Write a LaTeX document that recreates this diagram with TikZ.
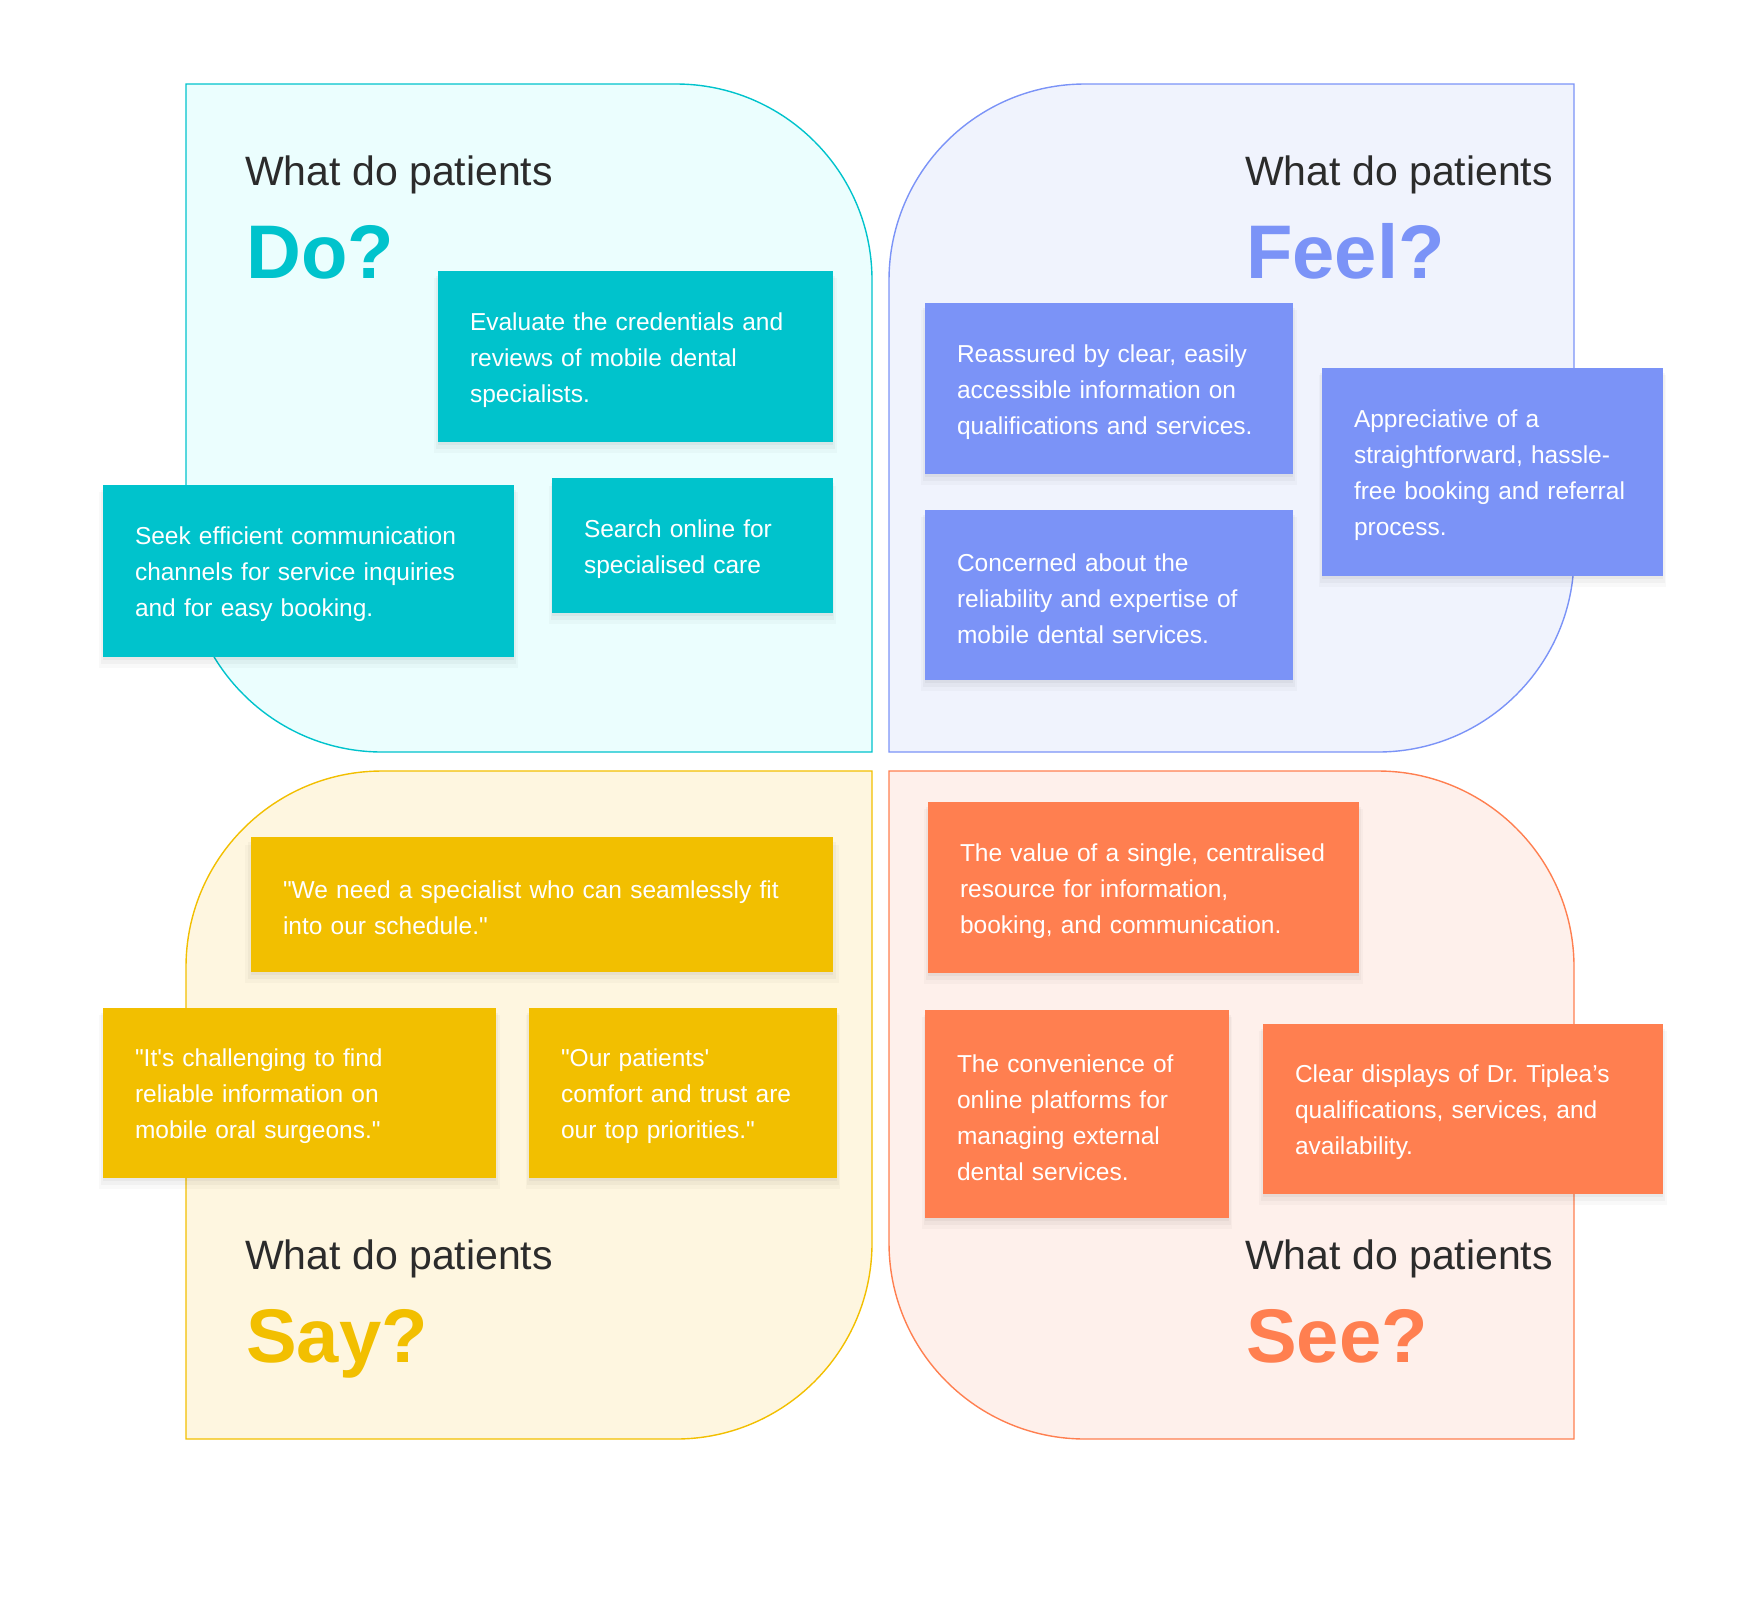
\documentclass[tikz,border=0pt]{standalone}
\usepackage{fontspec}
\setmainfont{Liberation Sans}[Ligatures=TeXOff]
\usetikzlibrary{shadows}
\definecolor{Teal}{HTML}{00C3CC}
\definecolor{TealLight}{HTML}{EBFEFE}
\definecolor{Periwinkle}{HTML}{7B93F7}
\definecolor{PeriwinkleLight}{HTML}{F0F3FD}
\definecolor{Amber}{HTML}{F2BF00}
\definecolor{AmberLight}{HTML}{FEF6E0}
\definecolor{Coral}{HTML}{FF7F50}
\definecolor{CoralLight}{HTML}{FEF0EB}
\definecolor{Ink}{HTML}{2B2B2B}
\frenchspacing

\begin{document}
\begin{tikzpicture}[x=1pt,y=-1pt,
    quad/.style={line width=1.4pt},
    soft/.style={general shadow={fill=black,opacity=.035,shadow xshift=0pt,shadow yshift=-3pt},
      general shadow={fill=black,opacity=.03,shadow xshift=0pt,shadow yshift=-6pt,shadow scale=1.01},
      general shadow={fill=black,opacity=.025,shadow xshift=0pt,shadow yshift=-9pt,shadow scale=1.02}},
    note/.style={rectangle,soft,inner xsep=32pt,inner ysep=0pt,align=left,text=white,
      font=\fontsize{24.5}{36}\selectfont,execute at begin node=\rule{0pt}{25pt}},
    ask/.style={anchor=base west,inner sep=0pt,text=Ink,font=\fontsize{41}{48}\selectfont},
    verb/.style={anchor=base west,inner sep=0pt,font=\fontsize{76}{90}\selectfont\bfseries}]
  \useasboundingbox (0,0) rectangle (1760,1598);

  % quadrants
  \filldraw[quad,draw=Teal,fill=TealLight] (186,84) -- (676,84)
    .. controls (784,84) and (872,172) .. (872,280) -- (872,752) -- (382,752)
    .. controls (274,752) and (186,664) .. (186,556) -- cycle;
  \filldraw[quad,draw=Periwinkle,fill=PeriwinkleLight] (1574,84) -- (1574,556)
    .. controls (1574,664) and (1486,752) .. (1378,752) -- (889,752) -- (889,280)
    .. controls (889,172) and (977,84) .. (1085,84) -- cycle;
  \filldraw[quad,draw=Amber,fill=AmberLight] (872,771) -- (872,1243)
    .. controls (872,1351) and (784,1439) .. (676,1439) -- (186,1439) -- (186,967)
    .. controls (186,859) and (274,771) .. (382,771) -- cycle;
  \filldraw[quad,draw=Coral,fill=CoralLight] (889,771) -- (1378,771)
    .. controls (1486,771) and (1574,859) .. (1574,967) -- (1574,1439) -- (1085,1439)
    .. controls (977,1439) and (889,1351) .. (889,1243) -- cycle;

  % headings
  \node[ask] (doask) at (245,185) {What do patients};
  \node[verb,text=Teal] (doverb) at (246,278) {Do?};
  \node[ask] (feelask) at (1245,185) {What do patients};
  \node[verb,text=Periwinkle] (feelverb) at (1246,278) {Feel?};
  \node[ask] (sayask) at (245,1269) {What do patients};
  \node[verb,text=Amber] (sayverb) at (246,1362) {Say?};
  \node[ask] (seeask) at (1245,1269) {What do patients};
  \node[verb,text=Coral] (seeverb) at (1246,1362) {See?};

  % Do
  \node[note,fill=Teal,minimum width=395pt,minimum height=171pt,text width=331pt] (doeval)
    at (635.5,356.5) {Evaluate the credentials and\\reviews of mobile dental\\specialists.};
  \node[note,fill=Teal,minimum width=411pt,minimum height=172pt,text width=347pt] (doseek)
    at (308.5,571) {Seek efficient communication\\channels for service inquiries\\and for easy booking.};
  \node[note,fill=Teal,minimum width=281pt,minimum height=135pt,text width=217pt] (dosearch)
    at (692.5,545.5) {Search online for\\specialised care};

  % Feel
  \node[note,fill=Periwinkle,minimum width=368pt,minimum height=171pt,text width=304pt] (feelsure)
    at (1109,388.5) {Reassured by clear, easily\\accessible information on\\qualifications and services.};
  \node[note,fill=Periwinkle,minimum width=368pt,minimum height=170pt,text width=304pt] (feelworry)
    at (1109,595) {Concerned about the\\reliability and expertise of\\mobile dental services.};
  \node[note,fill=Periwinkle,minimum width=341pt,minimum height=208pt,text width=277pt] (feelease)
    at (1492.5,472) {Appreciative of a\\straightforward, hassle-\\free booking and referral\\process.};

  % Say
  \node[note,fill=Amber,minimum width=582pt,minimum height=135pt,text width=518pt] (sayfit)
    at (542,904.5) {"We need a specialist who can seamlessly fit\\into our schedule."};
  \node[note,fill=Amber,minimum width=393pt,minimum height=170pt,text width=329pt] (sayfind)
    at (299.5,1093) {"It's challenging to find\\reliable information on\\mobile oral surgeons."};
  \node[note,fill=Amber,minimum width=308pt,minimum height=170pt,text width=244pt] (saytrust)
    at (683,1093) {"Our patients'\\comfort and trust are\\our top priorities."};

  % See
  \node[note,fill=Coral,minimum width=431pt,minimum height=171pt,text width=367pt] (seehub)
    at (1143.5,887.5) {The value of a single, centralised\\resource for information,\\booking, and communication.};
  \node[note,fill=Coral,minimum width=304pt,minimum height=208pt,text width=240pt] (seeonline)
    at (1077,1114) {The convenience of\\online platforms for\\managing external\\dental services.};
  \node[note,fill=Coral,minimum width=400pt,minimum height=170pt,text width=336pt] (seeprofile)
    at (1463,1109) {Clear displays of Dr. Tiplea’s\\qualifications, services, and\\availability.};
\end{tikzpicture}
\end{document}
